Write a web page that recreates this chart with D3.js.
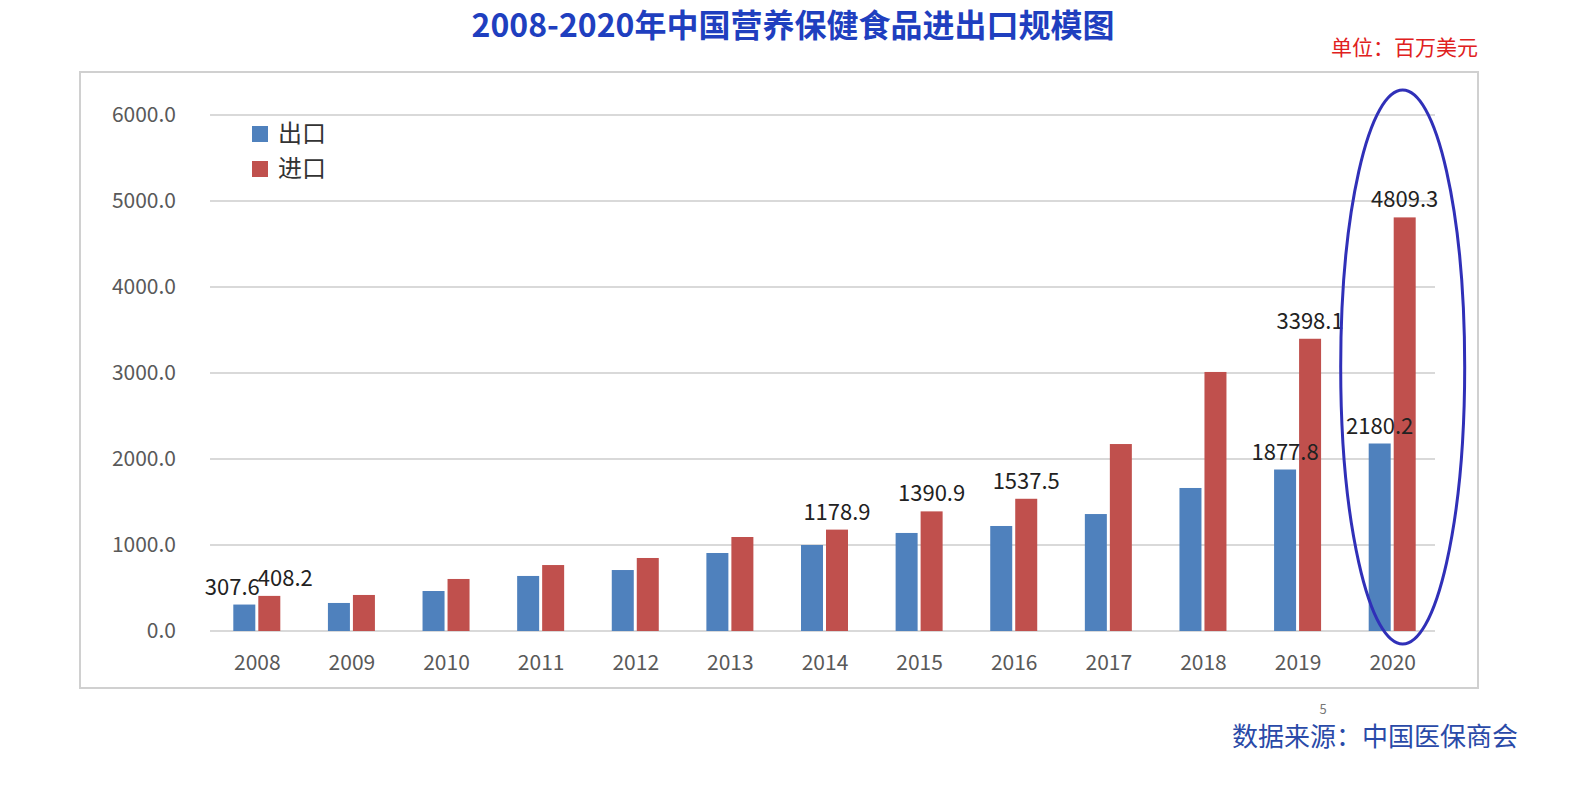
<!DOCTYPE html>
<html lang="en">
<head>
<meta charset="utf-8">
<title>营养保健食品进出口</title>
<script src="https://cdn.jsdelivr.net/npm/d3@7"></script>
<style>
  body { margin: 0; background: #fff; }
  text { font-family: "Noto Sans CJK SC", sans-serif; }
</style>
</head>
<body>
<script>
var w = 1593, h = 800;

var years = ["2008","2009","2010","2011","2012","2013","2014","2015","2016","2017","2018","2019","2020"];
var exportVals = [307.6, 326, 465, 640, 709, 907, 1000, 1140, 1221, 1360, 1663, 1877.8, 2180.2];
var importVals = [408.2, 419, 605, 767, 849, 1093, 1178.9, 1390.9, 1537.5, 2174, 3012, 3398.1, 4809.3];
// which bars carry a value label
var exportLabeled = [0, 11, 12];
var importLabeled = [0, 6, 7, 8, 11, 12];
var yTicks = [0, 1000, 2000, 3000, 4000, 5000, 6000];

var svg = d3.select("body").append("svg").attr("width", w).attr("height", h);

// title and notes
svg.append("text").attr("x", 793).attr("y", 37).attr("text-anchor", "middle")
  .attr("font-size", 32).attr("font-weight", "bold").attr("fill", "#1f3fbf")
  .text("2008-2020年中国营养保健食品进出口规模图");
svg.append("text").attr("x", 1478).attr("y", 55).attr("text-anchor", "end")
  .attr("font-size", 21).attr("fill", "#e02020").text("单位：百万美元");
svg.append("text").attr("x", 1518).attr("y", 746).attr("text-anchor", "end")
  .attr("font-size", 26).attr("fill", "#2a4aa8").text("数据来源：中国医保商会");
svg.append("text").attr("x", 1323).attr("y", 714).attr("text-anchor", "middle")
  .attr("font-size", 13).attr("fill", "#777").text("5");

// chart frame
svg.append("rect").attr("x", 80).attr("y", 72).attr("width", 1398).attr("height", 616)
  .attr("fill", "none").attr("stroke", "#d0d0d0").attr("stroke-width", 2);

var x = d3.scaleBand().domain(years).range([210, 1440]);
var y = d3.scaleLinear().domain([0, 6000]).range([631, 115]);

svg.selectAll(".grid").data(yTicks).enter().append("line")
  .attr("x1", 210).attr("x2", 1435)
  .attr("y1", function(d){ return y(d); }).attr("y2", function(d){ return y(d); })
  .attr("stroke", "#d9d9d9").attr("stroke-width", 2);

svg.selectAll(".ytick").data(yTicks).enter().append("text")
  .attr("x", 176).attr("y", function(d){ return y(d) + 7; })
  .attr("text-anchor", "end").attr("font-size", 21).attr("fill", "#595959")
  .attr("font-family", "Liberation Sans, sans-serif")
  .text(function(d){ return d.toFixed(1); });

svg.selectAll(".xtick").data(years).enter().append("text")
  .attr("x", function(d){ return x(d) + x.bandwidth()/2; }).attr("y", 670)
  .attr("text-anchor", "middle").attr("font-size", 21).attr("fill", "#595959")
  .attr("font-family", "Liberation Sans, sans-serif")
  .text(function(d){ return d; });

var bw = 22;
function drawBars(vals, offset, color) {
  svg.selectAll(null).data(vals).enter().append("rect")
    .attr("x", function(d, i){ return x(years[i]) + x.bandwidth()/2 + offset - bw/2; })
    .attr("y", function(d){ return y(d); })
    .attr("width", bw)
    .attr("height", function(d){ return y(0) - y(d); })
    .attr("fill", color);
}
drawBars(exportVals, -13, "#4f81bd");
drawBars(importVals, 12, "#c0504d");

function drawLabels(vals, idx, offset, nudge) {
  svg.selectAll(null).data(idx).enter().append("text")
    .attr("x", function(i){ return x(years[i]) + x.bandwidth()/2 + offset + (i === 0 ? nudge : 0); })
    .attr("y", function(i){ return y(vals[i]) - 10; })
    .attr("text-anchor", "middle").attr("font-size", 22).attr("fill", "#222")
    .attr("font-family", "DejaVu Sans, sans-serif")
    .text(function(i){ return vals[i].toFixed(1); });
}
drawLabels(exportVals, exportLabeled, -13, -12);
drawLabels(importVals, importLabeled, 12, 16);

// legend
var legend = [["出口", "#4f81bd"], ["进口", "#c0504d"]];
legend.forEach(function(l, i){
  svg.append("rect").attr("x", 252).attr("y", 126 + i*35).attr("width", 16).attr("height", 16).attr("fill", l[1]);
  svg.append("text").attr("x", 278).attr("y", 142 + i*35).attr("font-size", 24).attr("fill", "#333").text(l[0]);
});

// highlight ellipse around 2020
var cx2020 = x("2020") + x.bandwidth()/2;
svg.append("ellipse").attr("cx", cx2020 + 10).attr("cy", 367).attr("rx", 62).attr("ry", 277)
  .attr("fill", "none").attr("stroke", "#3030b8").attr("stroke-width", 3);
</script>
</body>
</html>
